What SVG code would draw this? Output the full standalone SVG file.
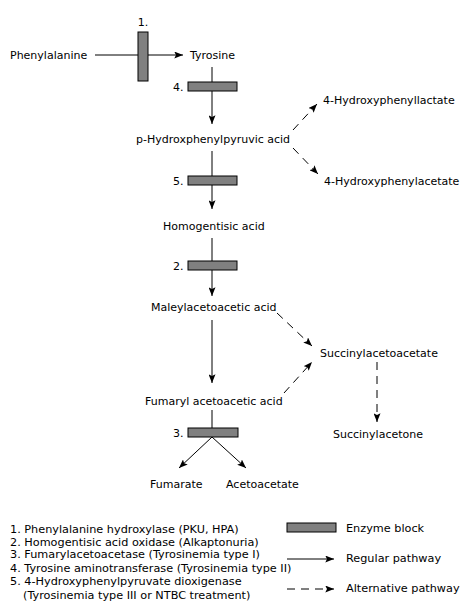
<svg xmlns="http://www.w3.org/2000/svg" width="470" height="616" viewBox="0 0 470 616">
<style>
text{font-family:"DejaVu Sans",Verdana,sans-serif;font-size:11px;fill:#000}
.lg{font-size:11.25px}
.c{stroke:#000;stroke-width:1;fill:none}
.d{stroke-dasharray:8,6}
.blk{fill:#808080;stroke:#000;stroke-width:1}
</style>
<defs>
<marker id="ah" viewBox="0 0 10 8" refX="10" refY="4" markerWidth="9" markerHeight="7" markerUnits="userSpaceOnUse" orient="auto">
<path d="M0,0 L10,4 L0,8 L2,4 Z" fill="#000"/>
</marker>
</defs>
<rect width="470" height="616" fill="#fff"/>
<g id="connectors">
<line class="c" x1="95" y1="55" x2="183" y2="55" marker-end="url(#ah)"/>
<line class="c" x1="212" y1="67" x2="212" y2="124" marker-end="url(#ah)"/>
<line class="c" x1="212" y1="151" x2="212" y2="209" marker-end="url(#ah)"/>
<line class="c" x1="212" y1="238" x2="212" y2="296" marker-end="url(#ah)"/>
<line class="c" x1="212" y1="320" x2="212" y2="383" marker-end="url(#ah)"/>
<line class="c" x1="212" y1="410" x2="212" y2="437"/>
<line class="c" x1="212" y1="437" x2="179" y2="468" marker-end="url(#ah)"/>
<line class="c" x1="212" y1="437" x2="246" y2="468" marker-end="url(#ah)"/>
<line class="c d" x1="293" y1="130" x2="317" y2="104" marker-end="url(#ah)"/>
<line class="c d" x1="293" y1="148" x2="318" y2="174" marker-end="url(#ah)"/>
<line class="c d" x1="277" y1="313" x2="312" y2="346" marker-end="url(#ah)"/>
<line class="c d" x1="284" y1="393" x2="312" y2="362" marker-end="url(#ah)"/>
<line class="c d" x1="377" y1="362" x2="377" y2="422" marker-end="url(#ah)"/>
</g>
<g id="enzyme1"><rect class="blk" x="138" y="32" width="10" height="49"/><text x="143" y="26" text-anchor="middle">1.</text></g>
<g id="enzyme4"><rect class="blk" x="188" y="82" width="49" height="9"/><text x="173" y="91">4.</text></g>
<g id="enzyme5"><rect class="blk" x="188" y="176" width="49" height="9"/><text x="173" y="185">5.</text></g>
<g id="enzyme2"><rect class="blk" x="188" y="261" width="49" height="9"/><text x="173" y="270">2.</text></g>
<g id="enzyme3"><rect class="blk" x="188" y="428" width="50" height="9"/><text x="173" y="437">3.</text></g>
<g id="phenylalanine"><text x="10" y="59">Phenylalanine</text></g>
<g id="tyrosine"><text x="190" y="59">Tyrosine</text></g>
<g id="phpp"><text x="136" y="143">p-Hydroxphenylpyruvic acid</text></g>
<g id="hpl"><text x="323" y="104">4-Hydroxyphenyllactate</text></g>
<g id="hpa"><text x="324" y="185">4-Hydroxyphenylacetate</text></g>
<g id="homogentisic"><text x="163" y="230">Homogentisic acid</text></g>
<g id="maleyl"><text x="151" y="311">Maleylacetoacetic acid</text></g>
<g id="succinylacetoacetate"><text x="320" y="357">Succinylacetoacetate</text></g>
<g id="fumaryl"><text x="145" y="405">Fumaryl acetoacetic acid</text></g>
<g id="succinylacetone"><text x="333" y="438">Succinylacetone</text></g>
<g id="fumarate"><text x="150" y="488">Fumarate</text></g>
<g id="acetoacetate"><text x="226" y="488">Acetoacetate</text></g>
<g id="legend">
<text class="lg" x="10" y="533">1. Phenylalanine hydroxylase (PKU, HPA)</text>
<text class="lg" x="10" y="546">2. Homogentisic acid oxidase (Alkaptonuria)</text>
<text class="lg" x="10" y="558">3. Fumarylacetoacetase (Tyrosinemia type I)</text>
<text class="lg" x="10" y="572">4. Tyrosine aminotransferase (Tyrosinemia type II)</text>
<text class="lg" x="10" y="585">5. 4-Hydroxyphenylpyruvate dioxigenase</text>
<text class="lg" x="23" y="599">(Tyrosinemia type III or NTBC treatment)</text>
<rect class="blk" x="287" y="523" width="49" height="9"/>
<text class="lg" x="346" y="532">Enzyme block</text>
<line class="c" x1="287" y1="559" x2="334" y2="559" marker-end="url(#ah)"/>
<text class="lg" x="346" y="562">Regular pathway</text>
<line class="c d" x1="287" y1="589" x2="334" y2="589" marker-end="url(#ah)"/>
<text class="lg" x="346" y="592">Alternative pathway</text>
</g>
</svg>
